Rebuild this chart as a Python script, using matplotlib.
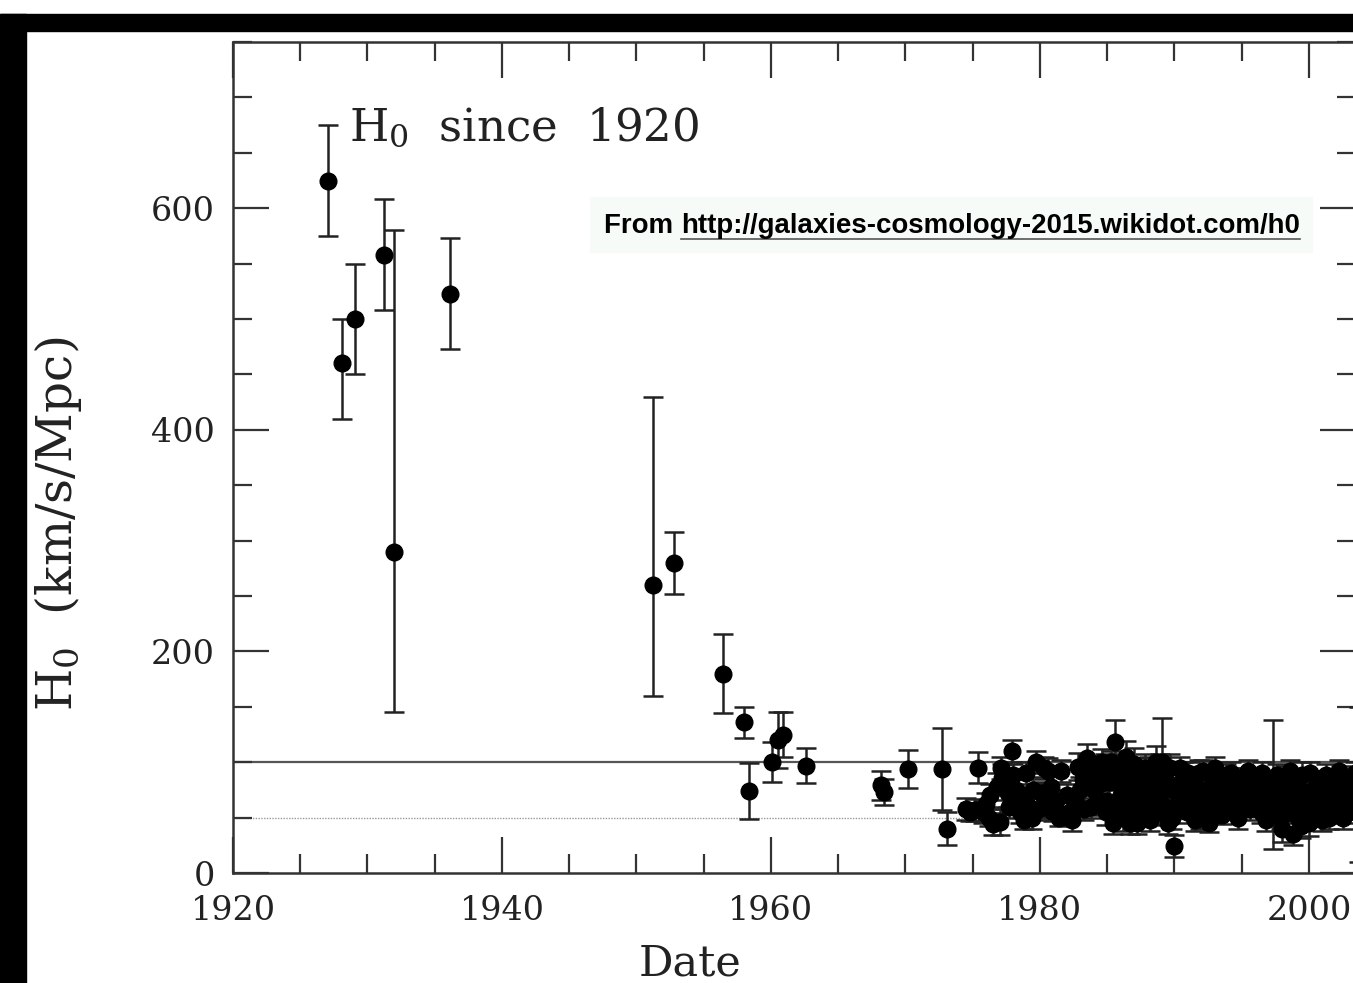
import numpy as np
import matplotlib
matplotlib.use("Agg")
import matplotlib.pyplot as plt
from matplotlib.patches import Rectangle
from matplotlib.lines import Line2D
from matplotlib.ticker import MultipleLocator

plt.rcParams['mathtext.fontset'] = 'dejavuserif'

# early measurements (year, H0, lower / upper error)
year_early = [1927.1, 1928.1, 1929.1, 1931.2, 1932.0, 1936.1, 1951.2, 1952.8,
              1956.4, 1958.0, 1958.4, 1960.1, 1960.5, 1960.9, 1962.6, 1968.2,
              1968.4, 1970.2, 1972.7]
h0_early = [625, 460, 500, 558, 290, 523, 260, 280, 180, 136, 74, 100, 120,
            125, 97, 79, 73, 94, 94]
err_lo_early = [50, 50, 50, 50, 145, 50, 100, 28, 36, 14, 25, 18, 25, 20, 16,
                13, 12, 17, 37]
err_hi_early = [50, 40, 50, 50, 290, 50, 170, 28, 36, 14, 25, 18, 25, 20, 16,
                13, 12, 17, 37]

# modern cluster, symmetric errors
year_late = [1973.1, 1974.5, 1974.8, 1975.2, 1975.4, 1975.8, 1976.2, 1976.5,
             1976.8, 1977.0, 1977.2, 1977.4, 1977.6, 1977.9, 1978.2, 1978.5,
             1978.8, 1979.2, 1979.5, 1979.7, 1979.9, 1980.1, 1980.3, 1980.6,
             1981.0, 1981.4, 1981.8, 1982.2, 1982.6, 1982.8, 1983.2, 1983.5,
             1983.8, 1984.0, 1984.3, 1984.6, 1984.9, 1985.1, 1985.4, 1985.6,
             1985.8, 1986.0, 1986.2, 1986.4, 1986.6, 1986.8, 1987.0, 1987.2,
             1987.4, 1987.6, 1987.9, 1988.1, 1988.3, 1988.6, 1988.8, 1989.1,
             1989.4, 1989.6, 1989.8, 1990.0, 1990.3, 1990.6, 1990.9, 1991.2,
             1991.5, 1991.8, 1992.0, 1992.3, 1992.6, 1992.9, 1993.2, 1993.5,
             1993.8, 1994.1, 1994.4, 1994.7, 1995.0, 1995.3, 1995.6, 1995.9,
             1996.2, 1996.5, 1996.8, 1997.0, 1997.3, 1997.5, 1997.8, 1998.0,
             1998.2, 1998.5, 1998.8, 1999.0, 1999.2, 1999.5, 1999.8, 2000.0,
             2000.3, 2000.6, 2000.9, 2001.2, 2001.5, 2001.8, 2002.1, 2002.4,
             2002.7, 2003.0, 2003.3, 2003.7]
h0_late = [40, 58, 55, 57, 95, 55, 50, 44, 78, 46, 86, 82, 72, 110, 75, 55,
           48, 60, 75, 100, 58, 72, 95, 92, 55, 50, 52, 55, 65, 96, 85, 104,
           60, 75, 92, 100, 55, 82, 45, 118, 95, 70, 50, 105, 88, 60, 98, 45,
           80, 65, 52, 90, 72, 100, 55, 100, 60, 80, 50, 24, 70, 85, 55, 65,
           48, 90, 75, 58, 45, 82, 68, 52, 88, 62, 80, 50, 72, 85, 58, 75,
           65, 90, 48, 78, 80, 55, 68, 40, 85, 60, 35, 72, 50, 88, 62, 45,
           75, 58, 82, 65, 50, 78, 60, 85, 68, 55, 75, 80]
err_late = [15, 10, 8, 10, 14, 10, 8, 10, 12, 12, 12, 10, 12, 10, 12, 10,
            8, 10, 12, 10, 10, 10, 10, 12, 8, 8, 8, 10, 10, 12, 14, 12,
            10, 12, 14, 12, 12, 15, 10, 20, 12, 15, 12, 14, 10, 12, 15, 10,
            10, 12, 10, 15, 10, 15, 12, 40, 10, 12, 10, 10, 15, 15, 10, 12,
            10, 12, 10, 10, 8, 12, 10, 8, 10, 10, 10, 10, 12, 10, 10, 10,
            10, 10, 10, 10, 58, 12, 10, 12, 12, 10, 10, 10, 12, 12, 10, 12,
            10, 10, 10, 10, 10, 10, 10, 12, 10, 10, 10, 70]

# more values filling the dense band after 1975
year_fill = [1976.0, 1976.3, 1977.1, 1977.7, 1978.0, 1978.6, 1979.0, 1979.4,
             1980.4, 1980.8, 1981.2, 1981.6, 1982.0, 1982.4, 1983.0, 1983.3,
             1983.7, 1984.2, 1984.5, 1984.8, 1985.0, 1985.3, 1985.7, 1985.9,
             1986.1, 1986.3, 1986.5, 1986.7, 1986.9, 1987.1, 1987.3, 1987.5,
             1987.8, 1988.0, 1988.2, 1988.4, 1988.7, 1988.9, 1989.2, 1989.5,
             1989.7, 1990.1, 1990.4, 1990.8, 1991.0, 1991.3, 1991.6, 1991.9,
             1992.1, 1992.4, 1992.8, 1993.0, 1993.3, 1993.6, 1993.9, 1994.2,
             1994.5, 1994.9, 1995.2, 1995.5, 1995.8, 1996.0, 1996.4, 1996.7,
             1997.1, 1997.6, 1997.9, 1998.3, 1998.6, 1998.9, 1999.1, 1999.4,
             1999.7, 2000.1, 2000.4, 2000.7, 2001.0, 2001.3, 2001.6, 2001.9,
             2002.2, 2002.5, 2002.8, 2003.1, 2003.4]
h0_fill = [62, 70, 95, 60, 88, 68, 90, 50, 60, 78, 65, 92, 70, 48, 75, 58,
           90, 62, 80, 95, 65, 100, 58, 80, 92, 62, 75, 45, 85, 70, 92, 55,
           95, 62, 48, 85, 68, 92, 75, 45, 95, 60, 95, 72, 90, 80, 60, 50,
           92, 68, 55, 95, 78, 60, 70, 90, 65, 85, 62, 92, 68, 82, 55, 72,
           62, 88, 50, 72, 92, 58, 80, 42, 72, 90, 55, 70, 48, 88, 70, 55,
           92, 50, 80, 62, 90]
err_fill = [10, 10, 10, 10, 10, 10, 10, 10, 10, 10, 10, 10, 10, 10, 12, 10,
            10, 10, 10, 12, 10, 10, 12, 10, 10, 10, 12, 10, 10, 10, 12, 10,
            12, 10, 10, 12, 10, 15, 10, 10, 12, 10, 10, 10, 10, 10, 10, 10,
            10, 10, 10, 10, 10, 10, 10, 10, 10, 10, 10, 10, 10, 10, 10, 10,
            10, 10, 10, 10, 10, 10, 10, 10, 10, 10, 10, 10, 10, 10, 10, 10,
            10, 10, 10, 10, 10]

yticks = [0, 200, 400, 600]
xticks = [1920, 1940, 1960, 1980, 2000]

W, H = 1353, 983
fig = plt.figure(figsize=(W / 100, H / 100), dpi=100)
fig.patch.set_facecolor('white')

# black frame from the screenshot
fig.add_artist(Rectangle((0, 952 / H), 1, 17 / H, transform=fig.transFigure,
                         color='black', zorder=0))
fig.add_artist(Rectangle((0, 0), 26 / W, 969 / H, transform=fig.transFigure,
                         color='black', zorder=0))

ax = fig.add_axes([233 / W, 110 / H, 1123 / W, 831 / H])
ax.set_xlim(1920, 2003.5)
ax.set_ylim(0, 750)

ax.axhline(100, color='#555555', lw=1.6, zorder=1)
ax.axhline(50, color='#999999', lw=1.0, ls=(0, (1, 1)), zorder=1)

ekw = dict(fmt='o', color='black', ecolor='#222222', ms=12, elinewidth=1.8,
           capsize=7.5, capthick=1.8, zorder=3)
ax.errorbar(year_early, h0_early, yerr=[err_lo_early, err_hi_early], **ekw)
ax.errorbar(year_late, h0_late, yerr=err_late, **ekw)
ax.errorbar(year_fill, h0_fill, yerr=err_fill, **ekw)

for s in ax.spines.values():
    s.set_linewidth(1.8)
    s.set_color('#333333')

ax.xaxis.set_major_locator(MultipleLocator(20))
ax.xaxis.set_minor_locator(MultipleLocator(5))
ax.yaxis.set_major_locator(MultipleLocator(200))
ax.yaxis.set_minor_locator(MultipleLocator(50))
ax.set_xticks(xticks)
ax.set_yticks(yticks)
ax.tick_params(which='both', direction='in', top=True, right=True,
               color='#333333', width=1.6)
ax.tick_params(which='major', length=26)
ax.tick_params(which='minor', length=13.5)
ax.tick_params(axis='x', pad=16, labelsize=24, labelcolor='#222222')
ax.tick_params(axis='y', pad=13, labelsize=24, labelcolor='#222222')
for lab in ax.get_xticklabels() + ax.get_yticklabels():
    lab.set_family('DejaVu Serif')

ax.text(1928.6, 661, r'H$_0$  since  1920', fontsize=32.5,
        family='DejaVu Serif', color='#222222', va='baseline')

fig.text(58 / W, 1 - 524 / H, r'H$_0$  (km/s/Mpc)', rotation=90,
         fontsize=35, family='DejaVu Serif', color='#222222',
         ha='center', va='center')
fig.text(690 / W, 7 / H, 'Date', fontsize=31, family='DejaVu Serif',
         color='#222222', ha='center', va='baseline')

# source note with light box and underlined url
fig.add_artist(Rectangle((590 / W, 1 - 252 / H), 722 / W, 55 / H,
                         transform=fig.transFigure, color='#f6fbf7', zorder=2))
t1 = fig.text(604 / W, 1 - 233 / H, 'From ', fontsize=19.9, weight='bold',
              family='Liberation Sans', va='baseline', zorder=3)
r = fig.canvas.get_renderer()
bb = t1.get_window_extent(r)
t2 = fig.text(bb.x1 / W, 1 - 233 / H, 'http://galaxies-cosmology-2015.wikidot.com/h0',
              fontsize=19.9, weight='bold', family='Liberation Sans',
              va='baseline', zorder=3)
bb2 = t2.get_window_extent(r)
uy = 1 - 239 / H
fig.add_artist(Line2D([bb2.x0 / W, bb2.x1 / W], [uy, uy],
                      transform=fig.transFigure, color='#555555', lw=1.2,
                      zorder=3))

fig.savefig('out.png', dpi=100)
